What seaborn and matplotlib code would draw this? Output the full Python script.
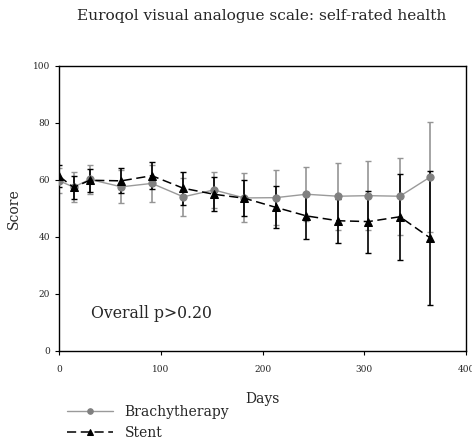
import matplotlib
matplotlib.use("Agg")
import matplotlib.pyplot as plt
import seaborn as sns
import pandas as pd

# Follow-up visits (days after treatment)
days = [0, 14, 30, 61, 91, 122, 152, 182, 213, 243, 274, 304, 335, 365]

# Mean self-rated health score and error half-widths per group
brachy_mean = [59.6, 57.4, 60.1, 57.5, 58.7, 54.0, 56.4, 53.6, 53.7, 54.9, 54.2, 54.4, 54.2, 61.0]
brachy_err = [4.4, 5.2, 5.1, 5.8, 6.4, 6.6, 6.3, 8.6, 9.6, 9.4, 11.8, 12.0, 13.5, 19.4]
stent_mean = [61.2, 57.3, 59.8, 59.6, 61.4, 57.0, 54.9, 53.5, 50.3, 47.3, 45.6, 45.3, 47.0, 39.5]
stent_err = [3.8, 4.0, 4.0, 4.4, 4.7, 5.8, 5.9, 6.4, 7.4, 8.2, 7.7, 10.9, 15.0, 23.5]

groups = ["Brachytherapy", "Stent"]
x_ticks = [0, 100, 200, 300, 400]
y_ticks = [0, 20, 40, 60, 80, 100]

title = "Euroqol visual analogue scale: self-rated health"
note = "Overall p>0.20"

sns.set_theme(style="white")
plt.rcParams["font.family"] = ["DejaVu Serif"]

df_b = pd.DataFrame({"Days": days, "Score": brachy_mean})
df_s = pd.DataFrame({"Days": days, "Score": stent_mean})

fig = plt.figure(figsize=(4.72, 4.42), dpi=100)
ax = fig.add_axes([59.3 / 472, 1 - 350.7 / 442, (466 - 59.3) / 472, (350.7 - 65.7) / 442])

grey_line = "#9a9a9a"
grey_mark = "#808080"

# Error bars
ax.errorbar(days, brachy_mean, yerr=brachy_err, fmt="none", ecolor="#959595",
            elinewidth=1.2, capsize=2.3, capthick=1.0, zorder=2)
ax.errorbar(days, stent_mean, yerr=stent_err, fmt="none", ecolor="black",
            elinewidth=1.2, capsize=2.3, capthick=1.0, zorder=3)

# Group means
sns.lineplot(data=df_b, x="Days", y="Score", ax=ax, color=grey_line, linewidth=1.0,
             marker="o", markersize=5.2, markerfacecolor=grey_mark,
             markeredgecolor=grey_mark, label=groups[0], zorder=4)
sns.lineplot(data=df_s, x="Days", y="Score", ax=ax, color="black", linewidth=1.1,
             dashes=(6, 3), marker="^", markersize=5.5, markerfacecolor="black",
             markeredgecolor="black", label=groups[1], zorder=5)

ax.set_xlim(0, 400)
ax.set_ylim(0, 100)
ax.set_xticks(x_ticks)
ax.set_yticks(y_ticks)
ax.tick_params(axis="both", direction="out", length=3, width=0.8, labelsize=6.5,
               color="black", bottom=True, left=True)
ax.tick_params(axis="x", pad=7)
ax.tick_params(axis="y", pad=3.5)
for s in ax.spines.values():
    s.set_color("black")
    s.set_linewidth(1.0)

ax.set_xlabel("Days", fontsize=10, labelpad=13)
ax.set_ylabel("Score", fontsize=10, labelpad=9)

ax.text(91, 13.2, note, fontsize=11.3, ha="center", va="center")

fig.text(262 / 472, 1 - 16 / 442, title, fontsize=11.1, ha="center", va="center")

leg = ax.legend(loc="upper left", bbox_to_anchor=(67 / 472, 1 - 405 / 442),
                bbox_transform=fig.transFigure, frameon=False, fontsize=10,
                handlelength=3.3, handletextpad=0.85, labelspacing=0.5,
                borderpad=0, borderaxespad=0)
for h in leg.legend_handles:
    h.set_markersize(4)

fig.savefig("out.png", dpi=100, facecolor="white")
